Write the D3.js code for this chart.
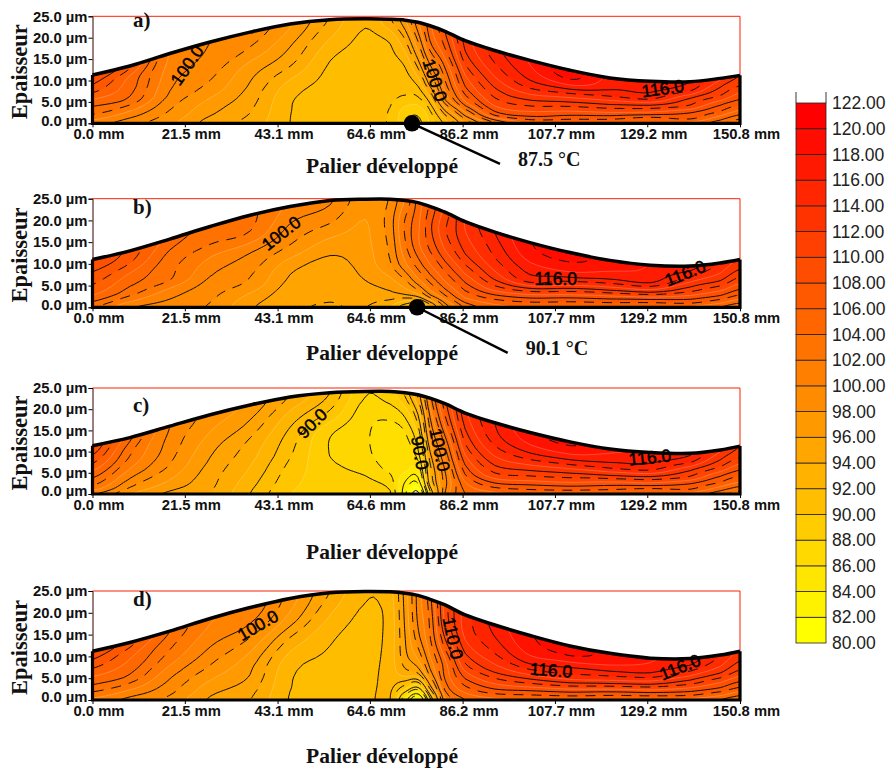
<!DOCTYPE html>
<html><head><meta charset="utf-8">
<script src="https://cdnjs.cloudflare.com/ajax/libs/d3/7.8.5/d3.min.js"></script>
<style>html,body{margin:0;padding:0;background:#fff}svg{display:block}</style>
</head><body><svg id="c" width="887" height="771"></svg>
<script>
// position along the developed bearing (mm) of each table column
const columnsMm=[0,8.7,18,27.4,36.7,46,55.3,63.5,69.3,72.8,75.8,78.6,82.1,86.8,93.7,101.9,111.2,120.5,129.9,139.2,146.2,150.8];
// share of the local film thickness of each table row
const rowFractions=[0,.12,.25,.4,.6,.8,1];
// film thickness (um)
const thicknessA=[11.3,13.4,16.3,19,21.3,23.2,24.2,24.4,24.3,24.1,23.6,22.8,21.5,19.3,17,14.7,12.4,10.6,9.8,9.7,10.5,11.2];
const thicknessB=[11,13,15.7,18.6,21.2,23.2,24.6,24.9,24.9,24.6,24.1,23.2,21.9,19.7,17.3,14.9,12.6,10.8,9.7,9.5,10.2,11];
const thicknessC=[11.4,13.3,16,18.7,21,22.9,23.9,24.2,24.2,23.9,23.4,22.6,21.3,19.1,16.8,14.5,12.3,10.6,9.8,9.6,10.4,11.3];
const thicknessD=[11.2,13.2,15.8,18.7,21.2,23.3,24.6,24.9,24.8,24.5,24,23.1,21.8,19.5,17.2,14.8,12.4,10.7,9.6,9.5,10.3,11.2];
// temperature (degC): one line per column, bottom to surface
const tempA=[
[100.7,101.9,103.4,104.4,106.4,108,109],
[99.2,100.3,101.8,103.6,104.5,105.1,107],
[97.7,98.3,99,99.8,100.4,100.9,101.2],
[95.4,96.2,96.9,98,99,99.7,100],
[94.2,94.7,95.2,95.8,96.7,98.4,99.5],
[92,92.05,92.2,93,94.9,96.2,97.5],
[91.3,91.4,91.5,91.6,92,93.2,94.5],
[91,91,91.1,91.2,91.4,91.7,92.2],
[90.5,90.6,90.9,91.1,91.6,92.2,94.5],
[88.2,88.8,90.5,91.3,92.4,94.5,97],
[87.6,88.5,90.5,92.5,95.5,98.5,101],
[89.5,90.5,93,96.5,100,103.5,105],
[92.5,95.5,99.8,102,104,106.5,108],
[97.5,101,105,107.5,109.5,111.5,112.5],
[102.5,107,109.5,111.2,113,114.5,115.5],
[105.5,108.2,110.3,112.5,115.2,116.8,117.5],
[105.5,107.5,109.7,112,115.3,118.4,119.5],
[105.5,107.2,109.5,111.8,114.7,116.4,117],
[105.3,106.3,109,111.5,115,116.3,116.9],
[105,106.9,108,110.3,112,114.9,116],
[103.2,104.7,106.5,108,110.5,112,113.5],
[101.5,103.2,105,107,109,110.8,112]];
const tempB=[
[102.8,104,105.3,106.3,107.3,108.3,109.5],
[100.2,101.6,103.2,104.2,105.3,106.8,107.5],
[99.3,100,101,102.7,103.1,103.8,104.8],
[98.5,98.9,99.4,100.1,101.2,102.8,103.5],
[96.2,97,98.3,99,100.1,102.5,103],
[94.9,95.2,95.7,96.5,98.5,99.8,101],
[94.6,94.8,95,95.5,96.9,98.8,100.2],
[94.7,95.2,96,96.6,97,97.3,97.8],
[93.5,95.6,97,98.5,99,99.3,98.8],
[91,96,98.5,101,102.5,102.8,101.5],
[90.1,97,100.8,103.2,105,105,104.5],
[93.5,99.8,102.8,105,107,107.7,107],
[99,102.5,105,107,109.3,110.5,110],
[103,105.5,107.5,109.5,111.8,113,113.5],
[104.8,107,110,112.5,114.3,115.3,116],
[105.5,107.5,110.8,115,116.6,118,118.6],
[105.5,107,109.8,113.3,116.8,118.5,119.5],
[105.5,107,109.5,112.8,116,117.5,118],
[105.7,106.8,109.5,113,116.2,117,117.3],
[105.2,107,108.8,111,113.2,115.3,116.7],
[104,105.8,107.8,109.7,112,113.5,114.5],
[102.8,104.5,106.5,108.3,110.3,112,113]];
const tempC=[
[100.2,102,103.4,104.6,106.4,108,109],
[97.5,98.7,99.8,101,102.3,103.2,104.3],
[95.7,96.7,97.6,98.5,99.2,99.6,100],
[94.7,95,95.3,95.8,96.5,97.4,98.2],
[92,92.5,93.1,93.7,94.5,95.8,96.9],
[89.4,89.8,90.2,90.8,91.5,92.8,94.5],
[88.7,88.6,88.4,87.95,88.2,90.4,92],
[88.6,88.3,87.6,87,86.9,87.3,88.2],
[88.2,87.3,86.3,85.8,86,87.3,89],
[83,84,85.7,86,86.6,88.5,91],
[79.5,83,85.5,87.5,89.5,92,95],
[90,93,94,95.5,98,100,102],
[100,99.5,100,101.5,103.5,106,107.5],
[104,105,106.8,108.5,110.5,112,113],
[105,107.3,110,112,114,115.5,116],
[105.7,107.5,110,112.3,115.2,117.3,118.3],
[105.7,107.5,109.8,112,115.2,117.7,119],
[105.5,107,109,111.8,115,116.7,117.7],
[105.5,106.5,109,111.7,115,116.3,117],
[105,106.7,108,110.3,112.3,115,116.2],
[103.2,104.7,106.5,108,110.5,112.2,113.5],
[102,103.5,105.3,107,109,111,112]];
const tempD=[
[101,102.2,103.5,104.7,106.3,107.8,109],
[99.6,100.7,102.2,103.7,104.8,105.8,107.2],
[98.3,99,99.7,100.6,102,103,104],
[95.8,96.5,97.4,98.5,99.7,100.8,101.5],
[94.7,95.2,95.9,96.5,98,99.8,101],
[91.9,92.05,92.2,92.8,94.5,96.8,98],
[91.6,91.6,91.7,91.8,92.3,93.4,94.6],
[91.5,91.5,91.5,91.5,91.6,91.8,92.2],
[92,92.3,92.6,92.6,92.5,92.5,92.8],
[85,90,94,95.5,96,96.3,96.5],
[81,88,94.5,97.5,99.5,100.3,100.5],
[90,95,99,101,102.5,103,103.5],
[101,103,104.3,105,107.5,109.5,110],
[104,106,108,110.3,112.5,113.8,114],
[105,107.5,110,112.5,114.5,115.8,116.5],
[105.5,107.5,110.5,113.5,116.5,118,118.5],
[105.7,107.5,110.5,113.7,116,118.5,119.6],
[105.7,107,109.7,113,115.8,117.7,118.3],
[105.6,107,109.5,112.5,115.5,117,117.5],
[105,106.8,108.7,111,113.5,115.7,116.7],
[104,105.7,107.7,109.5,112,113.7,114.7],
[102.8,104.5,106.5,108.3,110.5,112,113]];
// contour labels: mm, um, text, angle
const labelsA=[[22,13.6,"100.0",-55],[79.8,10.1,"100.0",72],[132.8,8.2,"116.0",-8]];
const labelsB=[[43.9,17.1,"100.0",-38],[107.9,6.7,"116.0",0],[138,7.9,"116.0",-22]];
const labelsC=[[51.1,16.7,"90.0",-45],[76.3,9.7,"90.0",80],[80.9,10.4,"100.0",78],[129.8,8.7,"116.0",-6]];
const labelsD=[[38.5,17.2,"100.0",-30],[84,14.2,"110.0",78],[106.8,6.9,"116.0",4],[136.8,7.6,"116.0",-22]];
const xTicks=[0,21.5,43.1,64.6,86.2,107.7,129.2,150.8];
const yTicks=[0,5,10,15,20,25];
const legendValues=d3.range(80,124,2);
const panelNames=["a)","b)","c)","d)"];
const minima=[{mm:74.4,text:"87.5 °C",endMm:94.9,endUm:-9.5},{mm:75.6,text:"90.1 °C",endMm:96.7,endUm:-10.5},null,null];

const svg=d3.select("#c");
const SANS='"Liberation Sans",Arial,sans-serif', SERIF='"Liberation Serif","Times New Roman",serif';
const PLOT_LEFT=92.5, PLOT_RIGHT=740;
const layouts=[
 {top:16.3,bottom:123.3,title:173,name:27,t:thicknessA,temp:tempA,labels:labelsA},
 {top:198.7,bottom:307.3,title:360,name:214,t:thicknessB,temp:tempB,labels:labelsB},
 {top:388,bottom:494,title:559,name:412,t:thicknessC,temp:tempC,labels:labelsC},
 {top:591,bottom:700,title:763,name:606,t:thicknessD,temp:tempD,labels:labelsD}];

// colours: yellow (81) to red (121)
const green=d3.scaleLinear().domain([81,121]).range([255,0]).clamp(true);
const bandColor=t=>t<80?"#ffffff":`rgb(255,${Math.round(green(t))},0)`;
const STEP=4/3;
const levels=d3.range(-18,17).map(k=>100+k*STEP);
const kOf=i=>(((i-18)%3)+3)%3;

function cr(p0,p1,p2,p3,t){return .5*(2*p1+(p2-p0)*t+(2*p0-5*p1+4*p2-p3)*t*t+(3*p1-p0-3*p2+p3)*t*t*t);}
function sample(M,u,v){
  const nc=M.length,nr=M[0].length;
  u=Math.max(0,Math.min(nc-1,u));v=Math.max(0,Math.min(nr-1,v));
  const i=Math.min(nc-2,Math.floor(u)),j=Math.min(nr-2,Math.floor(v));
  const tu=u-i,tv=v-j,cl=(a,n)=>Math.max(0,Math.min(n-1,a));
  const col=d3.range(-1,3).map(d=>{const c=M[cl(i+d,nc)];
    return cr(c[cl(j-1,nr)],c[j],c[j+1],c[cl(j+2,nr)],tv);});
  return cr(col[0],col[1],col[2],col[3],tu);
}

const x=d3.scaleLinear().domain([0,150.8]).range([PLOT_LEFT,PLOT_RIGHT]);
const colScale=d3.scaleLinear().domain(columnsMm.map((_,i)=>i)).range(columnsMm);
const rowScale=d3.scaleLinear().domain(rowFractions.map((_,i)=>i)).range(rowFractions);
const F=6;

layouts.forEach((L,p)=>{
  const g=svg.append("g");
  const y=d3.scaleLinear().domain([0,25]).range([L.bottom,L.top]);
  const hAt=d3.scaleLinear().domain(columnsMm).range(L.t);
  const pts=columnsMm.map((m,i)=>[m,L.t[i]]);
  const area=d3.area().x(d=>x(d[0])).y0(L.bottom).y1(d=>y(d[1])).curve(d3.curveCatmullRom);
  const line=d3.line().x(d=>x(d[0])).y(d=>y(d[1])).curve(d3.curveCatmullRom);
  svg.append("clipPath").attr("id","clip"+p).append("path").attr("d",area(pts));

  const nc=L.temp.length,nr=L.temp[0].length;
  const W=(nc+1)*F+1,H=(nr+1)*F+1,vals=new Float64Array(W*H);
  for(let fj=0;fj<H;fj++)for(let fi=0;fi<W;fi++)vals[fj*W+fi]=sample(L.temp,fi/F-1,fj/F-1);
  const cs=d3.contours().size([W,H]).thresholds(levels)(vals);
  const toPath=c=>c.coordinates.map(poly=>poly.map(ring=>"M"+ring.map(([a,b])=>{
      const mm=colScale((a-.5)/F-1),fr=rowScale((b-.5)/F-1);
      return x(mm).toFixed(2)+","+y(fr*hAt(mm)).toFixed(2);
    }).join("L")+"Z").join("")).join("");
  const body=g.append("g").attr("clip-path",`url(#clip${p})`);
  body.append("path").attr("d",area(pts)).attr("fill","#fff");
  cs.forEach((c,i)=>{
    body.append("path").attr("d",toPath(c)).attr("fill",bandColor(levels[i]+STEP/2)).attr("fill-rule","evenodd");
  });
  cs.forEach((c,i)=>{
    const k=kOf(i),s=body.append("path").attr("d",toPath(c)).attr("fill","none");
    if(k===0)s.attr("stroke","#111").attr("stroke-width",1);
    else if(k===1)s.attr("stroke","rgba(255,255,255,.28)").attr("stroke-width",.8);
    else s.attr("stroke","#111").attr("stroke-width",1).attr("stroke-dasharray","10,8");
  });

  // frame
  g.append("path").attr("d",`M${PLOT_LEFT},${y(25)}H${PLOT_RIGHT}V${y(L.t[L.t.length-1])}`).attr("fill","none").attr("stroke","#ff2000").attr("stroke-width",1);
  g.append("path").attr("d",line(pts)).attr("fill","none").attr("stroke","#000").attr("stroke-width",3.5);
  g.append("path").attr("d",`M${PLOT_LEFT},${y(L.t[0])}V${L.bottom}H${PLOT_RIGHT}V${y(L.t[L.t.length-1])}`).attr("fill","none").attr("stroke","#000").attr("stroke-width",3.2);

  // axes
  const ya=g.append("g").attr("transform",`translate(${PLOT_LEFT},0)`)
    .call(d3.axisLeft(y).tickValues(yTicks).tickSize(4).tickPadding(1).tickFormat(d=>d3.format(".1f")(d)+" µm"));
  ya.select(".domain").attr("stroke","#300").attr("stroke-width",1);
  ya.selectAll("text").attr("font-family",SANS).attr("font-size",14.8).attr("font-weight","bold").attr("fill","#111")
    .attr("transform",d=>d===0?"translate(0,-3)":null);
  const xa=g.append("g").attr("transform",`translate(0,${L.bottom})`)
    .call(d3.axisBottom(x).tickValues(xTicks).tickSize(4).tickPadding(1.5).tickFormat(d=>d3.format(".1f")(d)+" mm"));
  xa.select(".domain").remove();
  xa.selectAll("text").attr("font-family",SANS).attr("font-size",14.8).attr("font-weight","bold").attr("fill","#111").attr("dx",6);

  // texts
  g.append("text").text("Epaisseur").attr("transform",`translate(27,${(L.top+L.bottom)/2+2}) rotate(-90)`)
    .attr("text-anchor","middle").attr("font-family",SERIF).attr("font-weight","bold").attr("font-size",22.5).attr("fill","#111");
  g.append("text").text("Palier développé").attr("x",382).attr("y",L.title).attr("text-anchor","middle")
    .attr("font-family",SERIF).attr("font-weight","bold").attr("font-size",21.5).attr("fill","#111");
  g.append("text").text(panelNames[p]).attr("x",133).attr("y",L.name)
    .attr("font-family",SERIF).attr("font-weight","bold").attr("font-size",21).attr("fill","#111");

  L.labels.forEach(([m,u,t,a])=>{
    g.append("text").text(t).attr("transform",`translate(${x(m)},${y(u)}) rotate(${a})`)
      .attr("text-anchor","middle").attr("dy","0.36em").attr("font-family",SANS).attr("font-size",17.5)
      .attr("fill","#000").attr("stroke","#000").attr("stroke-width",.5);
  });

  const mn=minima[p];
  if(mn){
    g.append("line").attr("x1",x(mn.mm)).attr("y1",y(0)).attr("x2",x(mn.endMm)).attr("y2",y(mn.endUm)).attr("stroke","#000").attr("stroke-width",2.4);
    g.append("circle").attr("cx",x(mn.mm)).attr("cy",y(0)).attr("r",8.3).attr("fill","#000");
    g.append("text").text(mn.text).attr("x",x(mn.endMm)+18).attr("y",y(mn.endUm)+2)
      .attr("font-family",SERIF).attr("font-weight","bold").attr("font-size",20).attr("fill","#111");
  }
});

// legend
const ly=d3.scaleLinear().domain([80,122]).range([643,103]);
const lg=svg.append("g");
lg.selectAll("rect").data(legendValues.slice(0,-1)).join("rect")
  .attr("x",796).attr("width",30).attr("y",d=>ly(d+2)).attr("height",d=>ly(d)-ly(d+2))
  .attr("fill",d=>`rgb(255,${Math.round(255*(1-(d-80)/40))},0)`).attr("stroke","#222").attr("stroke-width",.8);
lg.append("path").attr("d",`M796,92V103M826,92V103`).attr("stroke","#222").attr("stroke-width",.9).attr("fill","none");
const la=lg.append("g").attr("transform","translate(826,0)")
  .call(d3.axisRight(ly).tickValues(legendValues).tickSize(0).tickPadding(6).tickFormat(d3.format(".2f")));
la.select(".domain").remove();
la.selectAll("text").attr("font-family",SANS).attr("font-size",17.5).attr("fill","#222");
</script></body></html>
